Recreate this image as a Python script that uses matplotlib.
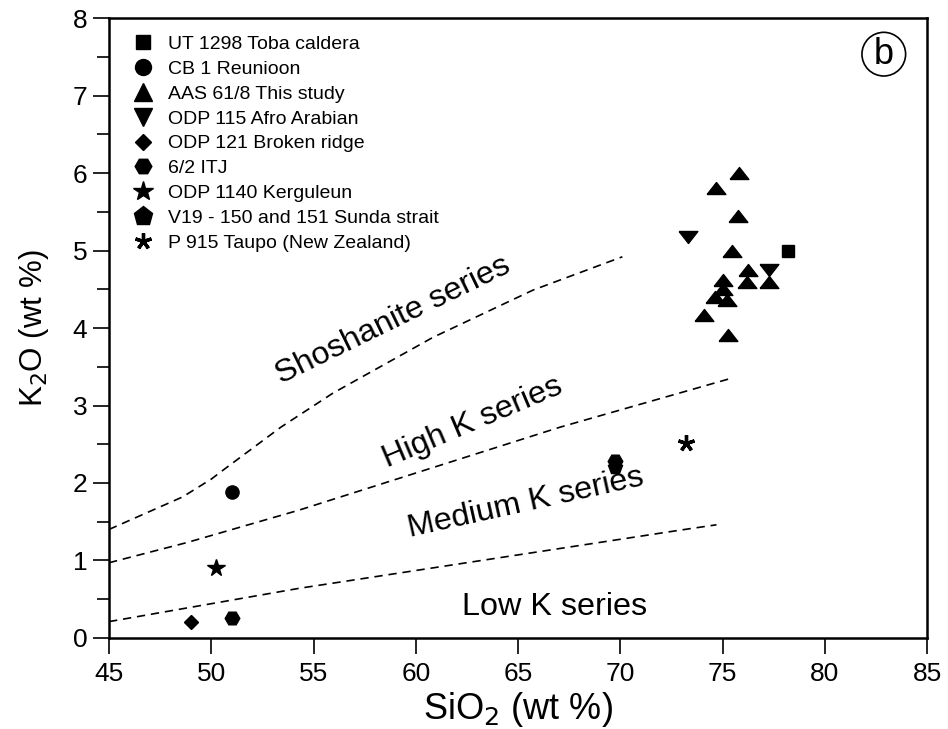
import numpy as np
import matplotlib
matplotlib.use("Agg")
import matplotlib.pyplot as plt
from matplotlib.lines import Line2D

plt.rcParams['font.family'] = ['Liberation Sans', 'DejaVu Sans']

# data (SiO2, K2O in wt %)
toba_x = [78.2]
toba_y = [5.0]
reunion_x = [51.0]
reunion_y = [1.88]
aas_x = [75.8, 74.7, 75.75, 75.45, 76.25, 76.2, 77.27, 75.0, 75.03, 74.63, 75.2, 74.1, 75.27]
aas_y = [6.0, 5.81, 5.45, 4.99, 4.75, 4.6, 4.6, 4.62, 4.51, 4.4, 4.36, 4.17, 3.91]
afro_x = [73.3, 77.27]
afro_y = [5.17, 4.75]
broken_x = [49.0]
broken_y = [0.2]
itj_x = [51.0, 69.74]
itj_y = [0.26, 2.28]
kerg_x = [50.25]
kerg_y = [0.9]
sunda_x = [69.74]
sunda_y = [2.2]
taupo_x = [73.2]
taupo_y = [2.52]

# series boundaries
shosh_x = [45, 48.6, 50.0, 50.6, 53.4, 55.95, 60.84, 65.73, 70.1]
shosh_y = [1.4, 1.82, 2.05, 2.17, 2.72, 3.16, 3.88, 4.49, 4.92]
highk_x = [45, 48.8, 54.3, 67.05, 75.4]
highk_y = [0.97, 1.23, 1.65, 2.72, 3.35]
lowk_x = [45, 54.3, 72.9, 74.7]
lowk_y = [0.21, 0.64, 1.39, 1.46]

labels = ["UT 1298 Toba caldera", "CB 1 Reunioon", "AAS 61/8 This study",
          "ODP 115 Afro Arabian", "ODP 121 Broken ridge", "6/2 ITJ",
          "ODP 1140 Kerguleun", "V19 - 150 and 151 Sunda strait",
          "P 915 Taupo (New Zealand)"]

# flattened triangles as in the original
tri_up = [(-1, -0.64), (1, -0.64), (0, 0.64), (-1, -0.64)]
tri_dn = [(-1, 0.64), (1, 0.64), (0, -0.64), (-1, 0.64)]

fig = plt.figure(figsize=(9.48, 7.29), dpi=100)
ax = fig.add_axes([0.115, 0.125, 0.863, 0.850])

ls = (0, (5, 3.5))
for xs, ys in [(shosh_x, shosh_y), (highk_x, highk_y), (lowk_x, lowk_y)]:
    ax.plot(xs, ys, color='black', lw=1.2, linestyle=ls)

k = dict(color='black', linestyle='none')
ax.plot(toba_x, toba_y, marker='s', ms=8.6, **k)
ax.plot(reunion_x, reunion_y, marker='o', ms=9.5, **k)
ax.plot(aas_x, aas_y, marker=tri_up, ms=13.5, **k)
ax.plot(afro_x, afro_y, marker=tri_dn, ms=13.5, **k)
ax.plot(broken_x, broken_y, marker='D', ms=7, **k)
ax.plot(itj_x, itj_y, marker='H', ms=10.5, **k)
ax.plot(kerg_x, kerg_y, marker='*', ms=13, **k)
ax.plot(sunda_x, sunda_y, marker='p', ms=10, **k)
ax.plot(taupo_x, taupo_y, marker=(5, 2, 0), ms=12, mew=2.4, **k)

# legend with proxy markers
handles = [
    Line2D([], [], marker='s', ms=9.5, **k),
    Line2D([], [], marker='o', ms=11.5, **k),
    Line2D([], [], marker='^', ms=13, **k),
    Line2D([], [], marker='v', ms=13, **k),
    Line2D([], [], marker='D', ms=8.5, **k),
    Line2D([], [], marker='H', ms=12, **k),
    Line2D([], [], marker='*', ms=15, **k),
    Line2D([], [], marker='p', ms=14, **k),
    Line2D([], [], marker=(5, 2, 0), ms=12, mew=2.4, **k),
]
ax.legend(handles, labels, loc='upper left', bbox_to_anchor=(0.030, 0.972),
          frameon=False, fontsize=14, handlelength=1.0, handletextpad=0.75,
          labelspacing=0.37, borderaxespad=0, borderpad=0)

# series labels
ax.text(58.9, 4.1, "Shoshanite series", rotation=26, fontsize=23.3,
        ha='center', va='center')
ax.text(62.8, 2.78, "High K series", rotation=23, fontsize=23.3,
        ha='center', va='center')
ax.text(65.4, 1.74, "Medium K series", rotation=12.5, fontsize=23.3,
        ha='center', va='center')
ax.text(66.8, 0.4, "Low K series", fontsize=23.3, ha='center', va='center')

# panel tag
ax.text(0.947, 0.942, "b", transform=ax.transAxes, fontsize=26,
        ha='center', va='center',
        bbox=dict(boxstyle='circle,pad=0.12', fc='white', ec='black', lw=1.2))

ax.set_xlim(45, 85)
ax.set_ylim(0, 8)
ax.set_xticks(np.arange(45, 86, 5))
ax.set_yticks(np.arange(0, 9, 1))
ax.set_yticks(np.arange(0.5, 8, 1), minor=True)
ax.tick_params(axis='both', which='major', direction='out', length=11.5,
               width=1.2, labelsize=19, pad=4)
ax.tick_params(axis='x', which='major', pad=6)
ax.tick_params(axis='y', which='minor', direction='out', length=9, width=1.2)
ax.tick_params(top=False, right=False)
for s in ax.spines.values():
    s.set_linewidth(1.8)

ax.set_xlabel("SiO$_2$ (wt %)", fontsize=26, labelpad=3)
ax.set_ylabel("K$_2$O (wt %)", fontsize=22.5, labelpad=16)

fig.savefig("out.png", dpi=100)
